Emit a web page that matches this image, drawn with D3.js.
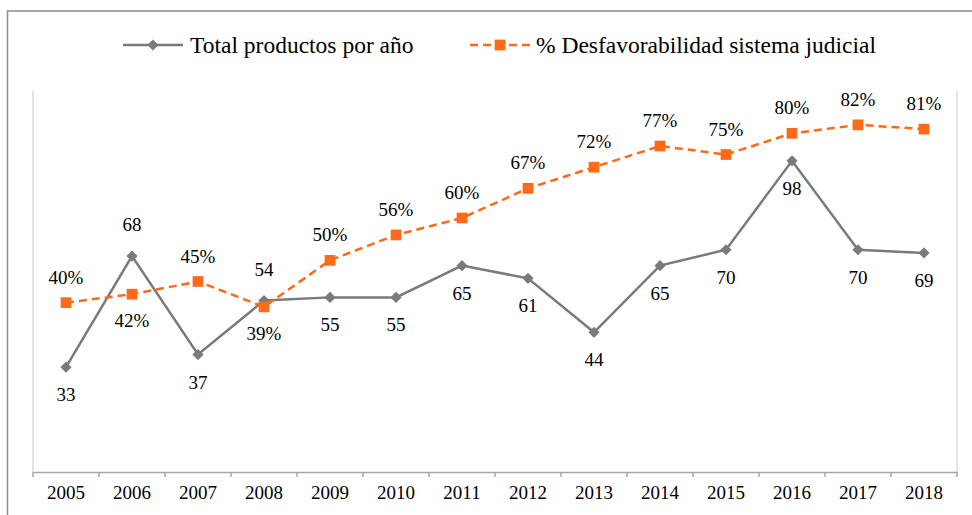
<!DOCTYPE html>
<html>
<head>
<meta charset="utf-8">
<script src="https://cdn.jsdelivr.net/npm/d3@7"></script>
<style>
  body { margin: 0; background: #fff; }
  svg { display: block; }
</style>
</head>
<body>
<svg id="chart" width="972" height="515"></svg>
<script>
const years = ["2005", "2006", "2007", "2008", "2009", "2010", "2011", "2012", "2013", "2014", "2015", "2016", "2017", "2018"];
const totalProductos = [33, 68, 37, 54, 55, 55, 65, 61, 44, 65, 70, 98, 70, 69];
const desfavorabilidad = [40, 42, 45, 39, 50, 56, 60, 67, 72, 77, 75, 80, 82, 81];
const seriesNames = ["Total productos por año", "% Desfavorabilidad sistema judicial"];

// which labels Excel put on the other side of the point
const totalLabelsAbove = ["2006", "2008"];
const desfLabelsBelow = ["2006", "2008"];

const gray = "#7a7a7a";
const orange = "#ff6a1a";
const serifFont = '"Liberation Serif", "Times New Roman", serif';

const svg = d3.select("#chart");

// outer chart border (cut off on the right and bottom in the original)
svg.append("rect")
  .attr("x", 7.5).attr("y", 11)
  .attr("width", 1000).attr("height", 600)
  .attr("fill", "none")
  .attr("stroke", "#8c8c8c")
  .attr("stroke-width", 1.5);

const plot = { left: 33, right: 957, top: 91, bottom: 472 };

const x = d3.scaleBand().domain(years).range([plot.left, plot.right]).padding(0);
const yTotal = d3.scaleLinear().domain([0, 120]).range([plot.bottom, plot.top]);
const yDesf = d3.scaleLinear().domain([0, 90]).range([plot.bottom, plot.top]);
const cx = d => x(d) + x.bandwidth() / 2;

// light plot area sides
svg.selectAll("line.side")
  .data([plot.left, plot.right])
  .enter().append("line")
  .attr("x1", d => d).attr("x2", d => d)
  .attr("y1", plot.top).attr("y2", plot.bottom)
  .attr("stroke", "#dcdcdc")
  .attr("stroke-width", 1.5);

// x axis
const xAxis = svg.append("g")
  .attr("transform", `translate(0,${plot.bottom})`)
  .call(d3.axisBottom(x).tickSize(0).tickPadding(14));
xAxis.select(".domain").attr("stroke", "#a6a6a6").attr("stroke-width", 1.5);
xAxis.selectAll("text")
  .attr("font-size", 19)
  .attr("fill", "#000");

const tickPos = years.map(d => x(d)).concat([plot.right]);
xAxis.selectAll("line.edge")
  .data(tickPos)
  .enter().append("line")
  .attr("class", "edge")
  .attr("x1", d => d).attr("x2", d => d)
  .attr("y1", 0).attr("y2", 5)
  .attr("stroke", "#a6a6a6")
  .attr("stroke-width", 1.5);

// series points
const totalPts = years.map((d, i) => ({ year: d, v: totalProductos[i] }));
const desfPts = years.map((d, i) => ({ year: d, v: desfavorabilidad[i] }));

svg.append("path")
  .datum(totalPts)
  .attr("fill", "none")
  .attr("stroke", gray)
  .attr("stroke-width", 2.5)
  .attr("d", d3.line().x(d => cx(d.year)).y(d => yTotal(d.v)));

svg.append("path")
  .datum(desfPts)
  .attr("fill", "none")
  .attr("stroke", orange)
  .attr("stroke-width", 2.5)
  .attr("stroke-dasharray", "8,5")
  .attr("d", d3.line().x(d => cx(d.year)).y(d => yDesf(d.v)));

const diamond = d3.symbol().type(d3.symbolDiamond2).size(80);
const square = d3.symbol().type(d3.symbolSquare).size(115);

svg.selectAll("path.tot")
  .data(totalPts)
  .enter().append("path")
  .attr("class", "tot")
  .attr("transform", d => `translate(${cx(d.year)},${yTotal(d.v)})`)
  .attr("d", diamond)
  .attr("fill", gray);

svg.selectAll("path.desf")
  .data(desfPts)
  .enter().append("path")
  .attr("class", "desf")
  .attr("transform", d => `translate(${cx(d.year)},${yDesf(d.v)})`)
  .attr("d", square)
  .attr("fill", orange);

// data labels
svg.selectAll("text.totLabel")
  .data(totalPts)
  .enter().append("text")
  .attr("class", "totLabel")
  .attr("x", d => cx(d.year))
  .attr("y", d => yTotal(d.v) + (totalLabelsAbove.includes(d.year) ? -25 : 34))
  .attr("text-anchor", "middle")
  .attr("font-size", 19)
  .text(d => d.v);

svg.selectAll("text.desfLabel")
  .data(desfPts)
  .enter().append("text")
  .attr("class", "desfLabel")
  .attr("x", d => cx(d.year))
  .attr("y", d => yDesf(d.v) + (desfLabelsBelow.includes(d.year) ? 33 : -19))
  .attr("text-anchor", "middle")
  .attr("font-size", 19)
  .text(d => d.v + "%");

// legend
const legend = svg.append("g").attr("transform", "translate(0,45)");
const g1 = legend.append("g").attr("transform", "translate(123,0)");
g1.append("line").attr("x1", 0).attr("x2", 60).attr("stroke", gray).attr("stroke-width", 2.5);
g1.append("path").attr("transform", "translate(30,0)").attr("d", diamond).attr("fill", gray);
g1.append("text").attr("x", 67).attr("y", 8).attr("font-size", 23.5).text(seriesNames[0]);

const g2 = legend.append("g").attr("transform", "translate(470,0)");
g2.append("line").attr("x1", 0).attr("x2", 61).attr("stroke", orange)
  .attr("stroke-width", 2.5).attr("stroke-dasharray", "8,5");
g2.append("path").attr("transform", "translate(30,0)").attr("d", square).attr("fill", orange);
g2.append("text").attr("x", 66).attr("y", 8).attr("font-size", 23.5).text(seriesNames[1]);

// everything in Times-like serif, as in the original
svg.selectAll("text").style("font-family", serifFont);
</script>
</body>
</html>
